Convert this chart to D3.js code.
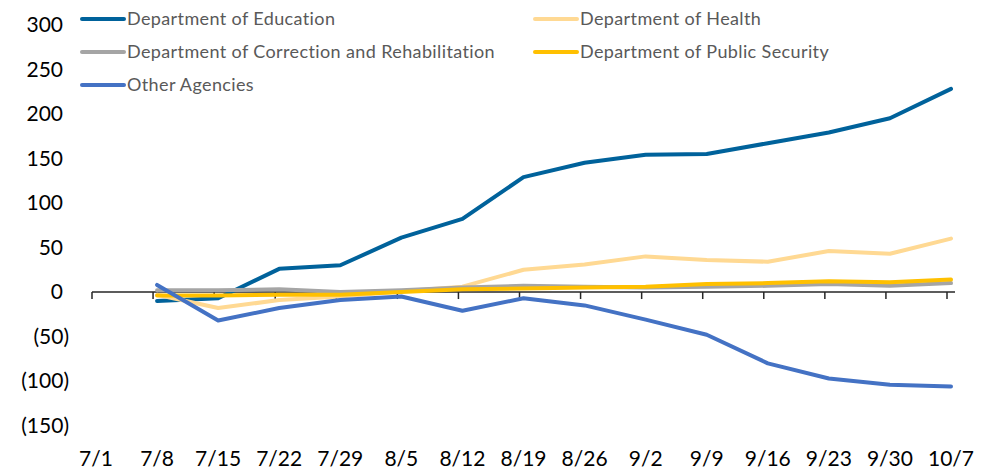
<!DOCTYPE html>
<html>
<head>
<meta charset="utf-8">
<script src="https://cdn.jsdelivr.net/npm/d3@7"></script>
<style>
  html, body { margin: 0; padding: 0; background: #fff; }
  text { font-family: Lato, "Open Sans", sans-serif; }
</style>
</head>
<body>
<svg id="chart" width="991" height="470"></svg>
<script>
    'use strict';

    var categories = ['7/1', '7/8', '7/15', '7/22', '7/29', '8/5', '8/12', '8/19', '8/26', '9/2', '9/9', '9/16', '9/23', '9/30', '10/7'];
    var yTicks = [300, 250, 200, 150, 100, 50, 0, -50, -100, -150];

    // values start at 7/8, 7/1 has no data
    var education = [null, -10, -7, 26, 30, 61, 82, 129, 145, 154, 155, 167, 179, 195, 228];
    var health = [null, -3, -18, -9, -5, 1, 6, 25, 31, 40, 36, 34, 46, 43, 60];
    var correction = [null, 2, 2, 3, 0, 2, 5, 7, 6, 5, 6, 7, 9, 7, 10];
    var publicSecurity = [null, -4, -4, -3, -3, 0, 3, 4, 5, 6, 9, 10, 12, 11, 14];
    var otherAgencies = [null, 8, -32, -18, -9, -5, -21, -7, -15, -31, -48, -80, -97, -104, -106];

    var seriesNames = ['Department of Education', 'Department of Health', 'Department of Correction and Rehabilitation', 'Department of Public Security', 'Other Agencies'];
    var seriesValues = [education, health, correction, publicSecurity, otherAgencies];
    var COLORS = ['#00629b', '#ffd993', '#a5a5a5', '#ffc000', '#4472c4'];

    var TICK_SHIFT = -4;

    var svg = d3.select('#chart');

    var x = d3.scalePoint()
        .domain(categories)
        .range([96, 951]);

    var y = d3.scaleLinear()
        .domain([-150, 300])
        .range([425.7, 24.7]);

    function fmt(v) {
        return v < 0 ? '(' + Math.abs(v) + ')' : String(v);
    }

    // y labels, no axis line
    svg.append('g')
        .selectAll('text')
        .data(yTicks)
        .enter()
        .append('text')
        .attr('x', function (d) { return d < 0 ? 69 : 63; })
        .attr('y', function (d) { return y(d); })
        .attr('dy', '0.35em')
        .attr('text-anchor', 'end')
        .attr('font-size', 21)
        .attr('fill', '#000')
        .text(fmt);

    // zero line with tick marks
    var axis = svg.append('g');
    axis.append('line')
        .attr('x1', x(categories[0]) + TICK_SHIFT)
        .attr('x2', x(categories[categories.length - 1]) + 4)
        .attr('y1', y(0))
        .attr('y2', y(0))
        .attr('stroke', '#262626')
        .attr('stroke-width', 1.5);
    axis.selectAll('line.tick')
        .data(categories)
        .enter()
        .append('line')
        .attr('class', 'tick')
        .attr('x1', function (d) { return x(d) + TICK_SHIFT; })
        .attr('x2', function (d) { return x(d) + TICK_SHIFT; })
        .attr('y1', y(0))
        .attr('y2', y(0) + 7)
        .attr('stroke', '#262626')
        .attr('stroke-width', 1.5);

    // category labels along the bottom
    svg.append('g')
        .selectAll('text')
        .data(categories)
        .enter()
        .append('text')
        .attr('x', function (d) { return x(d); })
        .attr('y', 466)
        .attr('text-anchor', 'middle')
        .attr('font-size', 21)
        .attr('fill', '#000')
        .text(function (d) { return d; });

    var line = d3.line()
        .defined(function (d) { return d !== null; })
        .x(function (d, i) { return x(categories[i]); })
        .y(function (d) { return y(d); });

    svg.append('g')
        .selectAll('path')
        .data(seriesValues)
        .enter()
        .append('path')
        .attr('d', line)
        .attr('fill', 'none')
        .attr('stroke', function (d, i) { return COLORS[i]; })
        .attr('stroke-width', 4)
        .attr('stroke-linejoin', 'round')
        .attr('stroke-linecap', 'round');

    // legend, two columns
    var legend = svg.append('g')
        .selectAll('g')
        .data(seriesNames)
        .enter()
        .append('g')
        .attr('transform', function (d, i) {
            var col = i % 2;
            var row = Math.floor(i / 2);
            return 'translate(' + (col ? 535 : 82) + ',' + (19 + row * 33) + ')';
        });

    legend.append('line')
        .attr('x1', 0)
        .attr('x2', 42)
        .attr('stroke', function (d, i) { return COLORS[i]; })
        .attr('stroke-width', 4)
        .attr('stroke-linecap', 'round');

    legend.append('text')
        .attr('x', 45)
        .attr('dy', '0.35em')
        .attr('font-size', 18)
        .attr('letter-spacing', 0.38)
        .attr('fill', '#595959')
        .text(function (d) { return d; });
</script>
</body>
</html>
